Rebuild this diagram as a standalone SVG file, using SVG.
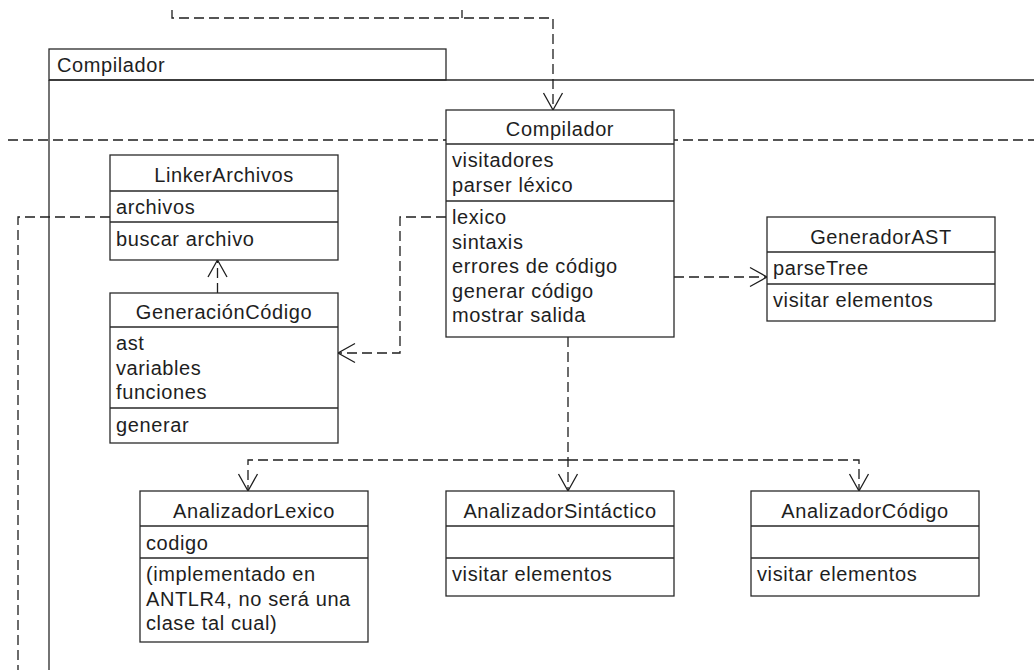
<svg xmlns="http://www.w3.org/2000/svg" width="1034" height="670" viewBox="0 0 1034 670">
  <style>
    text { font-family: "Liberation Sans", Arial, sans-serif; font-size: 20px; letter-spacing: 0.6px; fill: #1e1e1e; }
    .title { text-anchor: middle; }
    .box { fill: #ffffff; stroke: #2a2a2a; stroke-width: 1.3; }
    .sep { stroke: #2a2a2a; stroke-width: 1.3; fill: none; }
    .frame { fill: none; stroke: #2a2a2a; stroke-width: 1.3; }
    .dep { fill: none; stroke: #1e1e1e; stroke-width: 1.3; stroke-dasharray: 10 5; }
  </style>
  <defs>
    <marker id="open" markerUnits="userSpaceOnUse" viewBox="-19 -11 21 22" markerWidth="21" markerHeight="22" refX="0" refY="0" orient="auto">
      <path d="M-17,-9.5 L0,0 L-17,9.5" fill="none" stroke="#1e1e1e" stroke-width="1.3"/>
    </marker>
  </defs>

  <!-- package frame -->
  <g id="pkg-compilador">
    <rect class="frame" x="49" y="49" width="397" height="31"/>
    <path class="frame" d="M49 80 H1034 M49 80 V670"/>
    <text x="57" y="72">Compilador</text>
  </g>

  <!-- connectors -->
  <g id="connectors">
    <path class="dep" d="M8 140 H1034"/>
    <path class="dep" d="M172 10 V18 H553 V110" marker-end="url(#open)"/>
    <path class="dep" d="M462 10 V18"/>
    <path class="dep" d="M446 217 H400 V353 H338" marker-end="url(#open)"/>
    <path class="dep" d="M217.5 293 V260" marker-end="url(#open)"/>
    <path class="dep" d="M110 217 H18 V670"/>
    <path class="dep" d="M674 277 H767" marker-end="url(#open)"/>
    <path class="dep" d="M568 337 V491" marker-end="url(#open)"/>
    <path class="dep" d="M568 460 H248 V491" marker-end="url(#open)"/>
    <path class="dep" d="M568 460 H859 V491" marker-end="url(#open)"/>
  </g>

  <!-- Compilador class -->
  <g id="compilador">
    <rect class="box" x="446" y="110" width="228" height="227"/>
    <path class="sep" d="M446 144 H674 M446 201 H674"/>
    <text class="title" x="560" y="136">Compilador</text>
    <text x="452" y="167">visitadores</text>
    <text x="452" y="191.5">parser léxico</text>
    <text x="452" y="224">lexico</text>
    <text x="452" y="248.5">sintaxis</text>
    <text x="452" y="273">errores de código</text>
    <text x="452" y="297.5">generar código</text>
    <text x="452" y="322">mostrar salida</text>
  </g>

  <!-- LinkerArchivos class -->
  <g id="linker-archivos">
    <rect class="box" x="110" y="155" width="228" height="105"/>
    <path class="sep" d="M110 191 H338 M110 222 H338"/>
    <text class="title" x="224" y="181.5">LinkerArchivos</text>
    <text x="116" y="214">archivos</text>
    <text x="116" y="246">buscar archivo</text>
  </g>

  <!-- GeneraciónCódigo class -->
  <g id="generacion-codigo">
    <rect class="box" x="110" y="293" width="228" height="150"/>
    <path class="sep" d="M110 327 H338 M110 408 H338"/>
    <text class="title" x="224" y="319">GeneraciónCódigo</text>
    <text x="116" y="350">ast</text>
    <text x="116" y="374.5">variables</text>
    <text x="116" y="399">funciones</text>
    <text x="116" y="432">generar</text>
  </g>

  <!-- GeneradorAST class -->
  <g id="generador-ast">
    <rect class="box" x="767" y="217" width="228" height="104"/>
    <path class="sep" d="M767 252 H995 M767 284 H995"/>
    <text class="title" x="881" y="243.5">GeneradorAST</text>
    <text x="773" y="275">parseTree</text>
    <text x="773" y="307">visitar elementos</text>
  </g>

  <!-- AnalizadorLexico class -->
  <g id="analizador-lexico">
    <rect class="box" x="140" y="491" width="228" height="151"/>
    <path class="sep" d="M140 526 H368 M140 558 H368"/>
    <text class="title" x="254" y="517.5">AnalizadorLexico</text>
    <text x="146" y="549.5">codigo</text>
    <text x="146" y="581">(implementado en</text>
    <text x="146" y="605.5">ANTLR4, no será una</text>
    <text x="146" y="630">clase tal cual)</text>
  </g>

  <!-- AnalizadorSintáctico class -->
  <g id="analizador-sintactico">
    <rect class="box" x="446" y="491" width="228" height="105"/>
    <path class="sep" d="M446 526 H674 M446 558 H674"/>
    <text class="title" x="560" y="517.5">AnalizadorSintáctico</text>
    <text x="452" y="581">visitar elementos</text>
  </g>

  <!-- AnalizadorCódigo class -->
  <g id="analizador-codigo">
    <rect class="box" x="751" y="491" width="228" height="105"/>
    <path class="sep" d="M751 526 H979 M751 558 H979"/>
    <text class="title" x="865" y="517.5">AnalizadorCódigo</text>
    <text x="757" y="581">visitar elementos</text>
  </g>
</svg>
